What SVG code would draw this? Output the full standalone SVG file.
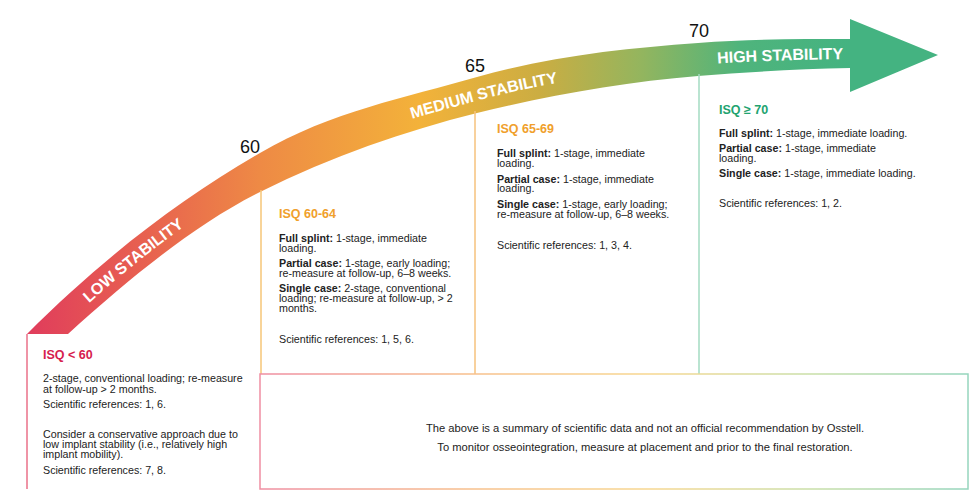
<svg xmlns="http://www.w3.org/2000/svg" width="980" height="493" viewBox="0 0 980 493">
<defs>
<linearGradient id="band" gradientUnits="userSpaceOnUse" x1="27" y1="0" x2="850" y2="0">
<stop offset="0" stop-color="#e03c5c"/>
<stop offset="0.15" stop-color="#e8634f"/>
<stop offset="0.283" stop-color="#ee8a45"/>
<stop offset="0.477" stop-color="#f3b23a"/>
<stop offset="0.623" stop-color="#cbad42"/>
<stop offset="0.745" stop-color="#94b55e"/>
<stop offset="0.866" stop-color="#4fb47c"/>
<stop offset="1" stop-color="#44b381"/>
</linearGradient>
<linearGradient id="boxg" gradientUnits="userSpaceOnUse" x1="260" y1="0" x2="968" y2="0">
<stop offset="0" stop-color="#ef8ea2"/>
<stop offset="0.3" stop-color="#f7c08c"/>
<stop offset="0.55" stop-color="#f7d790"/>
<stop offset="0.78" stop-color="#c9dfa8"/>
<stop offset="1" stop-color="#95d5bd"/>
</linearGradient>
<path id="mid" d="M47.5,334 C118.5,266 189,211 260,172.5 C332,133.5 405,114.5 477,95 C551,75.5 624,65.25 698,59.5 C749,55.5 799,54 850,53.5 L930,53.5"/>
</defs>
<style>
text{font-family:"Liberation Sans",Arial,sans-serif;}
.t{font-size:10.7px;fill:#222;}
.n{font-size:11.2px;fill:#222;}
.b{font-weight:bold;}
.h{font-size:12.5px;font-weight:bold;}
.lbl{font-size:16px;font-weight:bold;fill:#fff;}
.num{font-size:18px;fill:#111;}
.ln{stroke-width:1.5;fill:none;}
</style>

<g id="arrow">
<path fill="url(#band)" d="M27,334 C105,256 182,198 260,153 C332,111 405,98 477,77 C551,56 624,48.5 698,43 C749,39 799,39 850,39 L850,19 L938,55 L850,92 L850,68 C799,69 749,72 698,76 C624,82 551,95 477,113 C405,131 332,156 260,192 C196,224 132,276 68,334 Z"/>
<text class="lbl" dy="5.5"><textPath href="#mid" startOffset="113" text-anchor="middle">LOW STABILITY</textPath></text>
<text class="lbl" dy="5.5"><textPath href="#mid" startOffset="505" text-anchor="middle">MEDIUM STABILITY</textPath></text>
<text class="lbl" dy="5.5"><textPath href="#mid" startOffset="805" text-anchor="middle">HIGH STABILITY</textPath></text>
</g>

<g id="ticks">
<text class="num" x="250" y="153" text-anchor="middle">60</text>
<text class="num" x="475" y="72" text-anchor="middle">65</text>
<text class="num" x="699" y="37" text-anchor="middle">70</text>
</g>

<g id="connectors">
<line class="ln" x1="27" y1="334" x2="27" y2="489" stroke="#ea7089"/>
<line class="ln" x1="261" y1="190" x2="261" y2="374" stroke="#f6c677"/>
<line class="ln" x1="475" y1="111" x2="475" y2="374" stroke="#f6c27c"/>
<line class="ln" x1="699" y1="74" x2="699" y2="374" stroke="#a3dbc2"/>
</g>

<g id="low">
<text class="h" x="43" y="359" fill="#d6204e">ISQ &lt; 60</text>
<text class="t" x="43" y="382">2-stage, conventional loading; re-measure</text>
<text class="t" x="43" y="392.5">at follow-up &gt; 2 months.</text>
<text class="t" x="43" y="407.5">Scientific references: 1, 6.</text>
<text class="t" x="43" y="438">Consider a conservative approach due to</text>
<text class="t" x="43" y="448">low implant stability (i.e., relatively high</text>
<text class="t" x="43" y="458">implant mobility).</text>
<text class="t" x="43" y="474">Scientific references: 7, 8.</text>
</g>

<g id="isq60">
<text class="h" x="279" y="218" fill="#f0a02c">ISQ 60-64</text>
<text class="t" x="279" y="241.5"><tspan class="b">Full splint:</tspan> 1-stage, immediate</text>
<text class="t" x="279" y="251.5">loading.</text>
<text class="t" x="279" y="266.5"><tspan class="b">Partial case:</tspan> 1-stage, early loading;</text>
<text class="t" x="279" y="276.5">re-measure at follow-up, 6–8 weeks.</text>
<text class="t" x="279" y="292"><tspan class="b">Single case:</tspan> 2-stage, conventional</text>
<text class="t" x="279" y="301.5">loading; re-measure at follow-up, &gt; 2</text>
<text class="t" x="279" y="311.5">months.</text>
<text class="t" x="279" y="343">Scientific references: 1, 5, 6.</text>
</g>

<g id="isq65">
<text class="h" x="497" y="133" fill="#f0a02c">ISQ 65-69</text>
<text class="t" x="497" y="157"><tspan class="b">Full splint:</tspan> 1-stage, immediate</text>
<text class="t" x="497" y="166.5">loading.</text>
<text class="t" x="497" y="182.5"><tspan class="b">Partial case:</tspan> 1-stage, immediate</text>
<text class="t" x="497" y="192">loading.</text>
<text class="t" x="497" y="208"><tspan class="b">Single case:</tspan> 1-stage, early loading;</text>
<text class="t" x="497" y="218">re-measure at follow-up, 6–8 weeks.</text>
<text class="t" x="497" y="248.5">Scientific references: 1, 3, 4.</text>
</g>

<g id="isq70">
<text class="h" x="719" y="114" fill="#22a36f">ISQ ≥ 70</text>
<text class="t" x="719" y="137"><tspan class="b">Full splint:</tspan> 1-stage, immediate loading.</text>
<text class="t" x="719" y="152"><tspan class="b">Partial case:</tspan> 1-stage, immediate</text>
<text class="t" x="719" y="162">loading.</text>
<text class="t" x="719" y="177"><tspan class="b">Single case:</tspan> 1-stage, immediate loading.</text>
<text class="t" x="719" y="207">Scientific references: 1, 2.</text>
</g>

<g id="note">
<rect x="260" y="374" width="708" height="115" fill="none" stroke="url(#boxg)" stroke-width="1.5"/>
<text class="n" x="645" y="432" text-anchor="middle">The above is a summary of scientific data and not an official recommendation by Osstell.</text>
<text class="n" x="645" y="451" text-anchor="middle">To monitor osseointegration, measure at placement and prior to the final restoration.</text>
</g>
</svg>
